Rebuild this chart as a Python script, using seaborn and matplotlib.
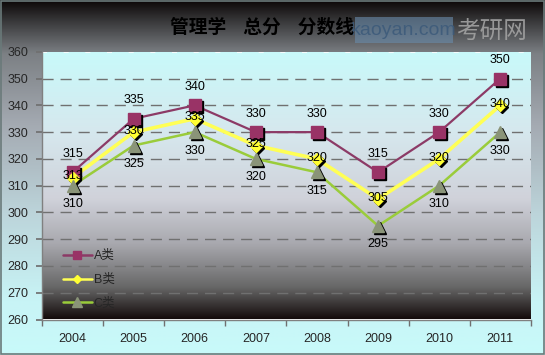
import numpy as np
import pandas as pd
import matplotlib
matplotlib.use("Agg")
import matplotlib.pyplot as plt
import matplotlib.transforms as mtransforms
from matplotlib.colors import LinearSegmentedColormap
from matplotlib.patches import Rectangle
import seaborn as sns

# ---- data ----
years = ["2004", "2005", "2006", "2007", "2008", "2009", "2010", "2011"]
score_a = [315, 335, 340, 330, 330, 315, 330, 350]
score_b = [313, 330, 335, 325, 320, 305, 320, 340]
score_c = [310, 325, 330, 320, 315, 295, 310, 330]
series_names = ["A类", "B类", "C类"]
title = "管理学    总分    分数线"

df = pd.DataFrame({
    "year": years * 3,
    "score": score_a + score_b + score_c,
    "group": [series_names[0]] * 8 + [series_names[1]] * 8 + [series_names[2]] * 8,
})
df["x"] = df["year"].map({y: i for i, y in enumerate(years)})

sns.set_theme(style="white")
plt.rcParams["font.family"] = ["Liberation Sans", "Noto Sans CJK SC", "DejaVu Sans"]

fig = plt.figure(figsize=(5.45, 3.55), dpi=100)

# figure background gradient (black top -> gray -> light cyan bottom)
bg = fig.add_axes([0, 0, 1, 1], zorder=-10)
bg_cmap = LinearSegmentedColormap.from_list("bg", [
    (0.0, "#0c0808"), (0.06, "#3a3a3c"), (0.15, "#7c8084"),
    (0.35, "#a4aab2"), (0.6, "#bcd4da"), (0.85, "#c8f4f6"), (1.0, "#c8fafa")])
bg.imshow(np.linspace(0, 1, 256).reshape(-1, 1), aspect="auto", cmap=bg_cmap,
          extent=[0, 1, 0, 1], origin="upper")
bg.set_axis_off()
bg.add_patch(Rectangle((0.001, 0.002), 0.997, 0.995, fill=False, edgecolor="#6a7a7a", lw=1.2))

# watermark (kaoyan.com 考研网)
bg.add_patch(Rectangle((355 / 545, 1 - 43 / 355), 98 / 545, 26 / 355,
                       facecolor="#6a8cac", edgecolor="none", alpha=0.6, zorder=2))
bg.text(0.741, 0.915, "kaoyan.com", fontsize=14, color="#3c5a7a", alpha=0.85,
        ha="center", va="center", transform=bg.transAxes, zorder=3)
bg.text(0.901, 0.91, "考研网", fontsize=17, color="#a2a2a2", alpha=0.9, ha="center", va="center",
        family=["Noto Sans CJK SC"], transform=bg.transAxes, zorder=3)

ax = fig.add_axes([0.077, 0.100, 0.897, 0.754])

# plot area gradient
pa_cmap = LinearSegmentedColormap.from_list("pa", [
    (0.0, "#c8fafa"), (0.3, "#d6e8ee"), (0.55, "#d0d2da"), (0.72, "#a8a8ae"),
    (0.88, "#686868"), (1.0, "#140c0c")])
ax.imshow(np.linspace(0, 1, 256).reshape(-1, 1), aspect="auto", cmap=pa_cmap,
          extent=[-0.5, 7.5, 260, 360], origin="upper", zorder=0)

ax.set_xlim(-0.5, 7.5)
ax.set_ylim(260, 360)
ax.set_yticks(np.arange(260, 361, 10))
for yv in np.arange(270, 360, 10):
    ax.axhline(yv, color="#707070", lw=1.0, ls=(0, (8, 5)), zorder=1)
ax.axhline(360, color="#ffffff", lw=1.2, ls=(0, (3, 10)), zorder=1)

palette = {"A类": "#8c3a66", "B类": "#ffff55", "C类": "#9acc3a"}
markers = {"A类": "s", "B类": "D", "C类": "^"}
mfaces = {"A类": "#993366", "B类": "#ffff33", "C类": "#8a9478"}
msizes = {"A类": 8, "B类": 6, "C类": 9}
lwidths = {"A类": 1.6, "B类": 2.6, "C类": 1.8}

shadow = ax.transData + mtransforms.ScaledTranslation(1.5 / 72, -1.5 / 72, fig.dpi_scale_trans)
for name in series_names:
    sub = df[df["group"] == name]
    sns.lineplot(data=sub, x="x", y="score", ax=ax, color=palette[name], lw=lwidths[name],
                 zorder=3, legend=False)
    ax.plot(sub["x"], sub["score"], ls="none", marker=markers[name], ms=msizes[name],
            color="black", transform=shadow, zorder=4)
    ax.plot(sub["x"], sub["score"], ls="none", marker=markers[name], ms=msizes[name],
            markerfacecolor=mfaces[name], markeredgecolor=mfaces[name], zorder=5)

# data labels
for i, v in enumerate(score_a):
    ax.annotate(str(v), (i, v), xytext=(0, 9), textcoords="offset points",
                ha="center", va="bottom", fontsize=9, color="black", zorder=6)
for i, v in enumerate(score_b):
    ax.annotate(str(v), (i, v), xytext=(0, 1), textcoords="offset points",
                ha="center", va="center", fontsize=9, color="black", zorder=6)
for i, v in enumerate(score_c):
    ax.annotate(str(v), (i, v), xytext=(0, -9), textcoords="offset points",
                ha="center", va="top", fontsize=9, color="black", zorder=6)

# legend
leg_ms = {"A类": 5.5, "B类": 4.5, "C类": 7}
handles = []
for name in series_names:
    h, = ax.plot([], [], color=palette[name], lw=1.8, marker=markers[name],
                 ms=leg_ms[name], markerfacecolor=mfaces[name], markeredgecolor=mfaces[name])
    handles.append(h)
leg = ax.legend(handles, series_names, loc="lower left", bbox_to_anchor=(0.02, -0.005),
                frameon=False, fontsize=9, handlelength=2.3, handletextpad=0.15, labelspacing=0.92)

# axes styling
ax.set_xticks(range(len(years)))
ax.set_xticklabels(years, fontsize=9)
ax.set_xticks(np.arange(-0.5, 7.6, 1), minor=True)
ax.tick_params(axis="x", which="major", length=0, pad=10)
ax.tick_params(axis="x", which="minor", length=4, color="#707070", direction="out")
ax.tick_params(axis="y", length=4, color="#707070", direction="out", labelsize=9, pad=6)
ax.yaxis.set_tick_params(which="major", left=True)
ax.xaxis.set_tick_params(which="minor", bottom=True)
for s in ["top", "right"]:
    ax.spines[s].set_visible(False)
for s in ["left", "bottom"]:
    ax.spines[s].set_color("#808080")
    ax.spines[s].set_linewidth(1.0)
ax.set_xlabel("")
ax.set_ylabel("")

fig.text(0.48, 0.922, title, fontsize=13.5, fontweight="bold", color="black", ha="center", va="center",
         family=["Noto Sans CJK SC"], zorder=5)

fig.savefig("out.png", dpi=100)
